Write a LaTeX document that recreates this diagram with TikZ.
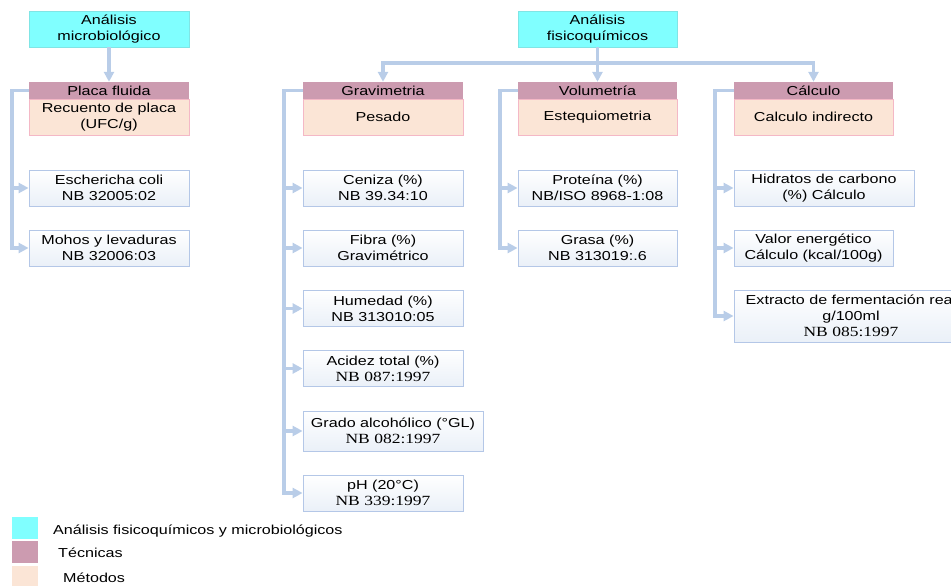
\documentclass[tikz,border=0pt]{standalone}
\usepackage{fontspec}
\setmainfont{Liberation Sans}[FakeStretch=1.24]
\newfontfamily\serifb{Liberation Serif}[FakeStretch=1.25]
\usetikzlibrary{arrows.meta,shadings}
\definecolor{cyanbox}{HTML}{80FFFF}
\definecolor{mauve}{HTML}{CC9BB0}
\definecolor{peach}{HTML}{FBE5D6}
\definecolor{pinkline}{HTML}{F4B8C6}
\definecolor{itemline}{HTML}{B4C7E7}
\definecolor{itemfill}{HTML}{EAF0F8}
\definecolor{conncol}{HTML}{B9CDE8}
\tikzset{
  every node/.style={font=\fontsize{13pt}{16pt}\selectfont, inner sep=0pt, align=center},
  titlebox/.style={fill=cyanbox, draw=cyanbox!80!gray, line width=0.4pt, minimum width=160pt, minimum height=36pt},
  headbox/.style={fill=mauve, minimum width=160pt, minimum height=17pt},
  methbox/.style={fill=peach, draw=pinkline, line width=0.8pt, minimum width=160pt, minimum height=36pt},
  itembox/.style={top color=white, bottom color=itemfill, draw=itemline, line width=0.8pt, minimum width=160pt, minimum height=36pt},
  legsq/.style={minimum width=26pt, minimum height=22pt},
  legtext/.style={anchor=west},
  arr/.style={draw=conncol, line width=3.6pt, -{Triangle[length=10pt,width=10pt]}},
}
\begin{document}
\begin{tikzpicture}[x=1pt,y=-1pt]
\useasboundingbox (0,0) rectangle (951,586);
\clip (0,0) rectangle (951,586);
% top boxes
\node[titlebox] (micro) at (109,29) {Análisis\\microbiológico};
\node[titlebox, minimum width=159pt] (fisico) at (597.5,29) {Análisis\\fisicoquímicos};
% headers
\node[methbox] (placam) at (109,117) {Recuento de placa\\(UFC/g)};
\node[headbox] (placa) at (109,90.5) {Placa fluida};
\node[methbox] (gravm) at (383,117) {Pesado};
\node[headbox] (grav) at (383,90.5) {Gravimetria};
\node[methbox, minimum width=159pt] (volm) at (597.5,117) {Estequiometria};
\node[headbox, minimum width=159pt] (vol) at (597.5,90.5) {Volumetría};
\node[methbox, minimum width=159pt] (calcm) at (813.5,117) {Calculo indirecto};
\node[headbox, minimum width=159pt] (calc) at (813.5,90.5) {Cálculo};
% micro items
\node[itembox] (ecoli) at (109,188) {Eschericha coli\\NB 32005:02};
\node[itembox] (mohos) at (109,248) {Mohos y levaduras\\NB 32006:03};
% grav items
\node[itembox] (ceniza) at (383,188) {Ceniza (\%)\\NB 39.34:10};
\node[itembox] (fibra) at (383,248) {Fibra (\%)\\Gravimétrico};
\node[itembox] (humedad) at (383,308.5) {Humedad (\%)\\NB 313010:05};
\node[itembox] (acidez) at (383,368.5) {Acidez total (\%)\\{\serifb\fontsize{14pt}{16pt}\selectfont NB 087:1997}};
\node[itembox, minimum width=180pt, minimum height=40pt] (grado) at (393,431) {Grado alcohólico (°GL)\\{\serifb\fontsize{14pt}{16pt}\selectfont NB 082:1997}};
\node[itembox] (ph) at (383,493) {pH (20°C)\\{\serifb\fontsize{14pt}{16pt}\selectfont NB 339:1997}};
% vol items
\node[itembox, minimum width=159pt] (proteina) at (597.5,188) {Proteína (\%)\\NB/ISO 8968-1:08};
\node[itembox, minimum width=159pt] (grasa) at (597.5,248) {Grasa (\%)\\NB 313019:.6};
% calc items
\node[itembox, minimum width=180pt] (hidratos) at (824,188) {Hidratos de carbono\\(\%) Cálculo};
\node[itembox, minimum width=159pt] (valor) at (813.5,248) {Valor energético\\Cálculo (kcal/100g)};
\node[itembox, minimum width=234pt, minimum height=52pt] (extracto) at (851,316) {Extracto de fermentación real\\g/100ml\\{\serifb\fontsize{14pt}{16pt}\selectfont NB 085:1997}};
% connectors
\draw[arr] (micro.south) -- (placa.north);
\coordinate (hub) at (597.5,63);
\draw[arr] (fisico.south) -- (vol.north);
\draw[arr] (hub) -| (grav.north);
\draw[arr] (hub) -| (calc.north);
\foreach \it in {ecoli,mohos}{\draw[arr] (placa.west) -- ++(-17,0) |- (\it.west);}
\foreach \it in {ceniza,fibra,humedad,acidez,grado,ph}{\draw[arr] (grav.west) -- ++(-19,0) |- (\it.west);}
\foreach \it in {proteina,grasa}{\draw[arr] (vol.west) -- ++(-18,0) |- (\it.west);}
\foreach \it in {hidratos,valor,extracto}{\draw[arr] (calc.west) -- ++(-19,0) |- (\it.west);}
% legend
\node[legsq, fill=cyanbox] (lg1) at (25,528) {};
\node[legsq, fill=mauve] (lg2) at (25,552) {};
\node[legsq, fill=peach] (lg3) at (25,577) {};
\node[legtext] (lt1) at (53,531) {Análisis fisicoquímicos y microbiológicos};
\node[legtext] (lt2) at (58,553) {Técnicas};
\node[legtext] (lt3) at (63,578) {Métodos};
\end{tikzpicture}
\end{document}
